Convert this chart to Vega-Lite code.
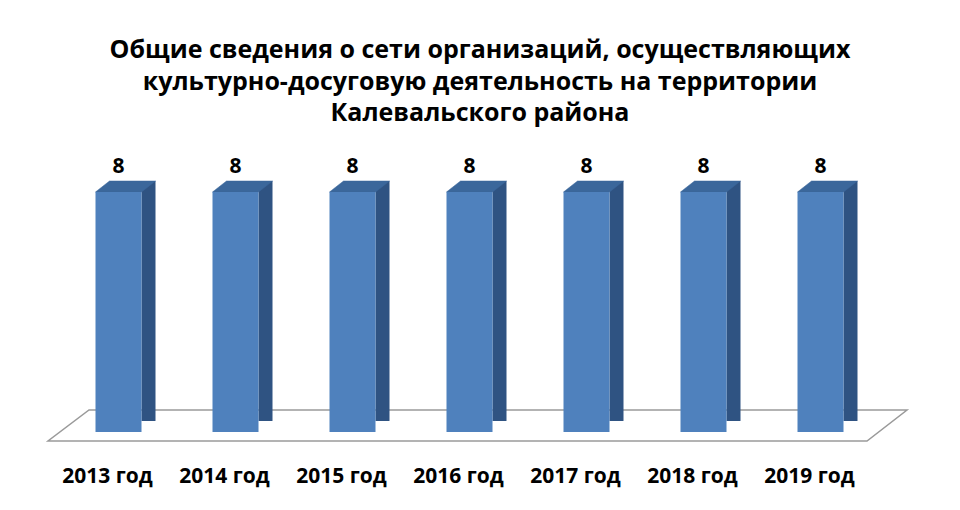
{
  "$schema": "https://vega.github.io/schema/vega-lite/v6.json",
  "width": 819,
  "height": 240,
  "autosize": {"type": "none"},
  "padding": {"left": 60, "top": 192, "right": 81, "bottom": 78},
  "background": "white",
  "config": {"view": {"stroke": null}, "font": "Open Sans"},
  "title": {
    "text": ["Общие сведения о сети организаций, осуществляющих", "культурно-досуговую деятельность на территории", "Калевальского  района"],
    "font": "Open Sans",
    "fontSize": 25,
    "fontWeight": "bold",
    "lineHeight": 31.5,
    "anchor": "middle",
    "frame": "group",
    "offset": 30,
    "dx": 10.5,
    "color": "black"
  },
  "data": {
    "values": [
      {"year": "2013 год", "value": 8},
      {"year": "2014 год", "value": 8},
      {"year": "2015 год", "value": 8},
      {"year": "2016 год", "value": 8},
      {"year": "2017 год", "value": 8},
      {"year": "2018 год", "value": 8},
      {"year": "2019 год", "value": 8}
    ]
  },
  "encoding": {
    "x": {
      "field": "year",
      "type": "nominal",
      "sort": ["2013 год", "2014 год", "2015 год", "2016 год", "2017 год", "2018 год", "2019 год"],
      "scale": {"paddingInner": 0.607, "paddingOuter": 0.3035},
      "axis": {
        "title": null,
        "domain": false,
        "ticks": false,
        "grid": false,
        "labelAngle": 0,
        "labelPadding": 33,
        "labelFont": "Open Sans",
        "labelFontSize": 21,
        "labelFontWeight": "bold",
        "labelColor": "black",
        "labelOffset": -11
      }
    },
    "y": {
      "field": "value",
      "type": "quantitative",
      "scale": {"domain": [0, 8]},
      "axis": null
    }
  },
  "layer": [
    {
      "transform": [{"filter": "datum.year === '2016 год'"}],
      "mark": {"type": "point", "shape": "M-380.5,-22L437.5,-22L397.5,9L-421.5,9Z", "size": 4, "filled": true, "fill": "white", "stroke": "#9A9A9A", "strokeWidth": 1.5, "opacity": 1},
      "encoding": {"y": {"datum": 0}}
    },
    {
      "mark": {"type": "bar", "width": 14, "xOffset": 30, "yOffset": -11, "color": "#2F5382"}
    },
    {
      "mark": {"type": "point", "shape": "M23,0.5L37.5,-11L37.5,0.5Z", "size": 4, "filled": true, "fill": "white", "stroke": "white", "strokeWidth": 0.5, "opacity": 1},
      "encoding": {"y": {"datum": 0}}
    },
    {
      "mark": {"type": "point", "shape": "M-23,0L23,0L37,-11L-9,-11Z", "size": 4, "filled": true, "fill": "#3B679B", "stroke": "#3B679B", "strokeWidth": 0.5, "opacity": 1}
    },
    {
      "mark": {"type": "bar", "width": 46, "color": "#4F81BD"}
    },
    {
      "mark": {"type": "text", "dy": -25, "fontSize": 21, "fontWeight": "bold", "font": "Open Sans", "baseline": "middle", "color": "black"},
      "encoding": {"text": {"field": "value", "type": "quantitative"}}
    }
  ]
}
